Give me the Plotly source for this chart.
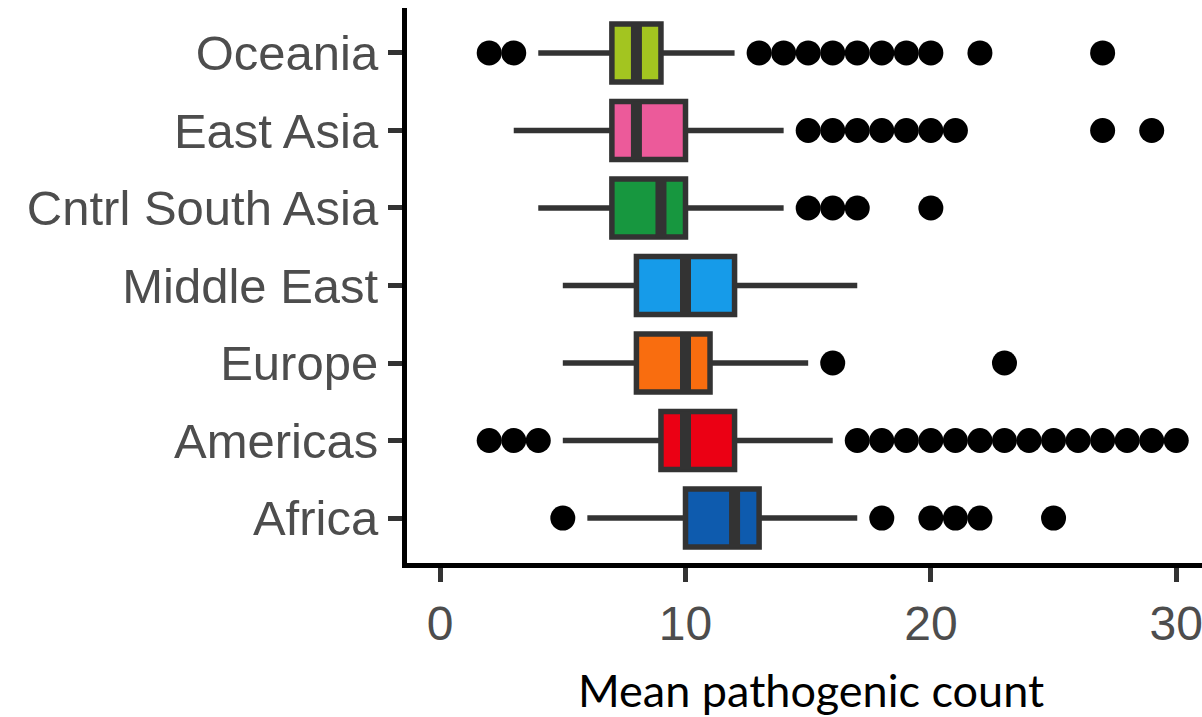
import plotly.graph_objects as go

# ---- data (bottom to top) ----
categories = ["Africa", "Americas", "Europe", "Middle East",
              "Cntrl South Asia", "East Asia", "Oceania"]
colors = ["#0E5BAE", "#EB0014", "#F96D0F", "#169BE9",
          "#17973F", "#EC5A9A", "#A3C520"]
lower_whisker = [6, 5, 5, 5, 4, 3, 4]
q1_values = [10, 9, 8, 8, 7, 7, 7]
median_values = [12, 10, 10, 10, 9, 8, 8]
q3_values = [13, 12, 11, 12, 10, 10, 9]
upper_whisker = [17, 16, 15, 17, 14, 14, 12]

outliers_africa = [5, 18, 20, 21, 22, 25]
outliers_americas = [2, 3, 4, 17, 18, 19, 20, 21, 22, 23, 24, 25, 26, 27, 28, 29, 30]
outliers_europe = [16, 23]
outliers_middle_east = []
outliers_cntrl_south_asia = [15, 16, 17, 20]
outliers_east_asia = [15, 16, 17, 18, 19, 20, 21, 27, 29]
outliers_oceania = [2, 3, 13, 14, 15, 16, 17, 18, 19, 20, 22, 27]
outlier_lists = [outliers_africa, outliers_americas, outliers_europe,
                 outliers_middle_east, outliers_cntrl_south_asia,
                 outliers_east_asia, outliers_oceania]

x_ticks = [0, 10, 20, 30]
x_title = "Mean pathogenic count"

BOX_W = 0.75
LINE_C = "#333333"

fig = go.Figure()
for i, cat in enumerate(categories):
    fig.add_trace(go.Box(
        y=[i], q1=[q1_values[i]], median=[median_values[i]], q3=[q3_values[i]],
        lowerfence=[lower_whisker[i]], upperfence=[upper_whisker[i]],
        orientation="h", width=BOX_W, whiskerwidth=0,
        fillcolor=colors[i], line=dict(color=LINE_C, width=5.5),
        boxpoints=False, showlegend=False, name=cat,
    ))
    # thicker median bar
    fig.add_trace(go.Scatter(
        x=[median_values[i], median_values[i]],
        y=[i - BOX_W / 2, i + BOX_W / 2],
        mode="lines", line=dict(color=LINE_C, width=11),
        showlegend=False, hoverinfo="skip",
    ))

ox, oy = [], []
for i, lst in enumerate(outlier_lists):
    for v in lst:
        ox.append(v)
        oy.append(i)
fig.add_trace(go.Scatter(
    x=ox, y=oy, mode="markers",
    marker=dict(color="black", size=25, line=dict(width=0)),
    showlegend=False,
))

L, T, PW, PH = 406.5, 8, 795.5, 555
fig.update_layout(
    width=1202, height=717,
    margin=dict(l=L, r=1202 - L - PW, t=T, b=717 - T - PH, pad=0),
    paper_bgcolor="white", plot_bgcolor="white",
    xaxis=dict(
        range=[-1.35, 31.05], tickvals=x_ticks, ticktext=[str(t) for t in x_ticks],
        showgrid=False, zeroline=False, showline=True, linecolor="black", linewidth=5,
        ticks="outside", ticklen=14, tickwidth=5, tickcolor=LINE_C,
        ticklabeloverflow="allow",
        tickfont=dict(family="Liberation Sans, Arial", size=48, color="#4D4D4D"),
    ),
    yaxis=dict(
        range=[-0.58, 6.58], tickvals=list(range(len(categories))), ticktext=categories,
        showgrid=False, zeroline=False, showline=True, linecolor="black", linewidth=5,
        ticks="outside", ticklen=14, tickwidth=5, tickcolor=LINE_C,
        tickfont=dict(family="Liberation Sans, Arial", size=49, color="#4D4D4D"),
    ),
    annotations=[dict(
        text=x_title, xref="paper", yref="paper", x=(811 - L) / PW, y=(T + PH - 662) / PH,
        xanchor="center", yanchor="top", showarrow=False, borderpad=0,
        font=dict(family="Lato", size=45, color="black"),
    )],
)

fig.write_html("out.html", config={"displayModeBar": False},
               post_script="document.body.style.margin='0';")
